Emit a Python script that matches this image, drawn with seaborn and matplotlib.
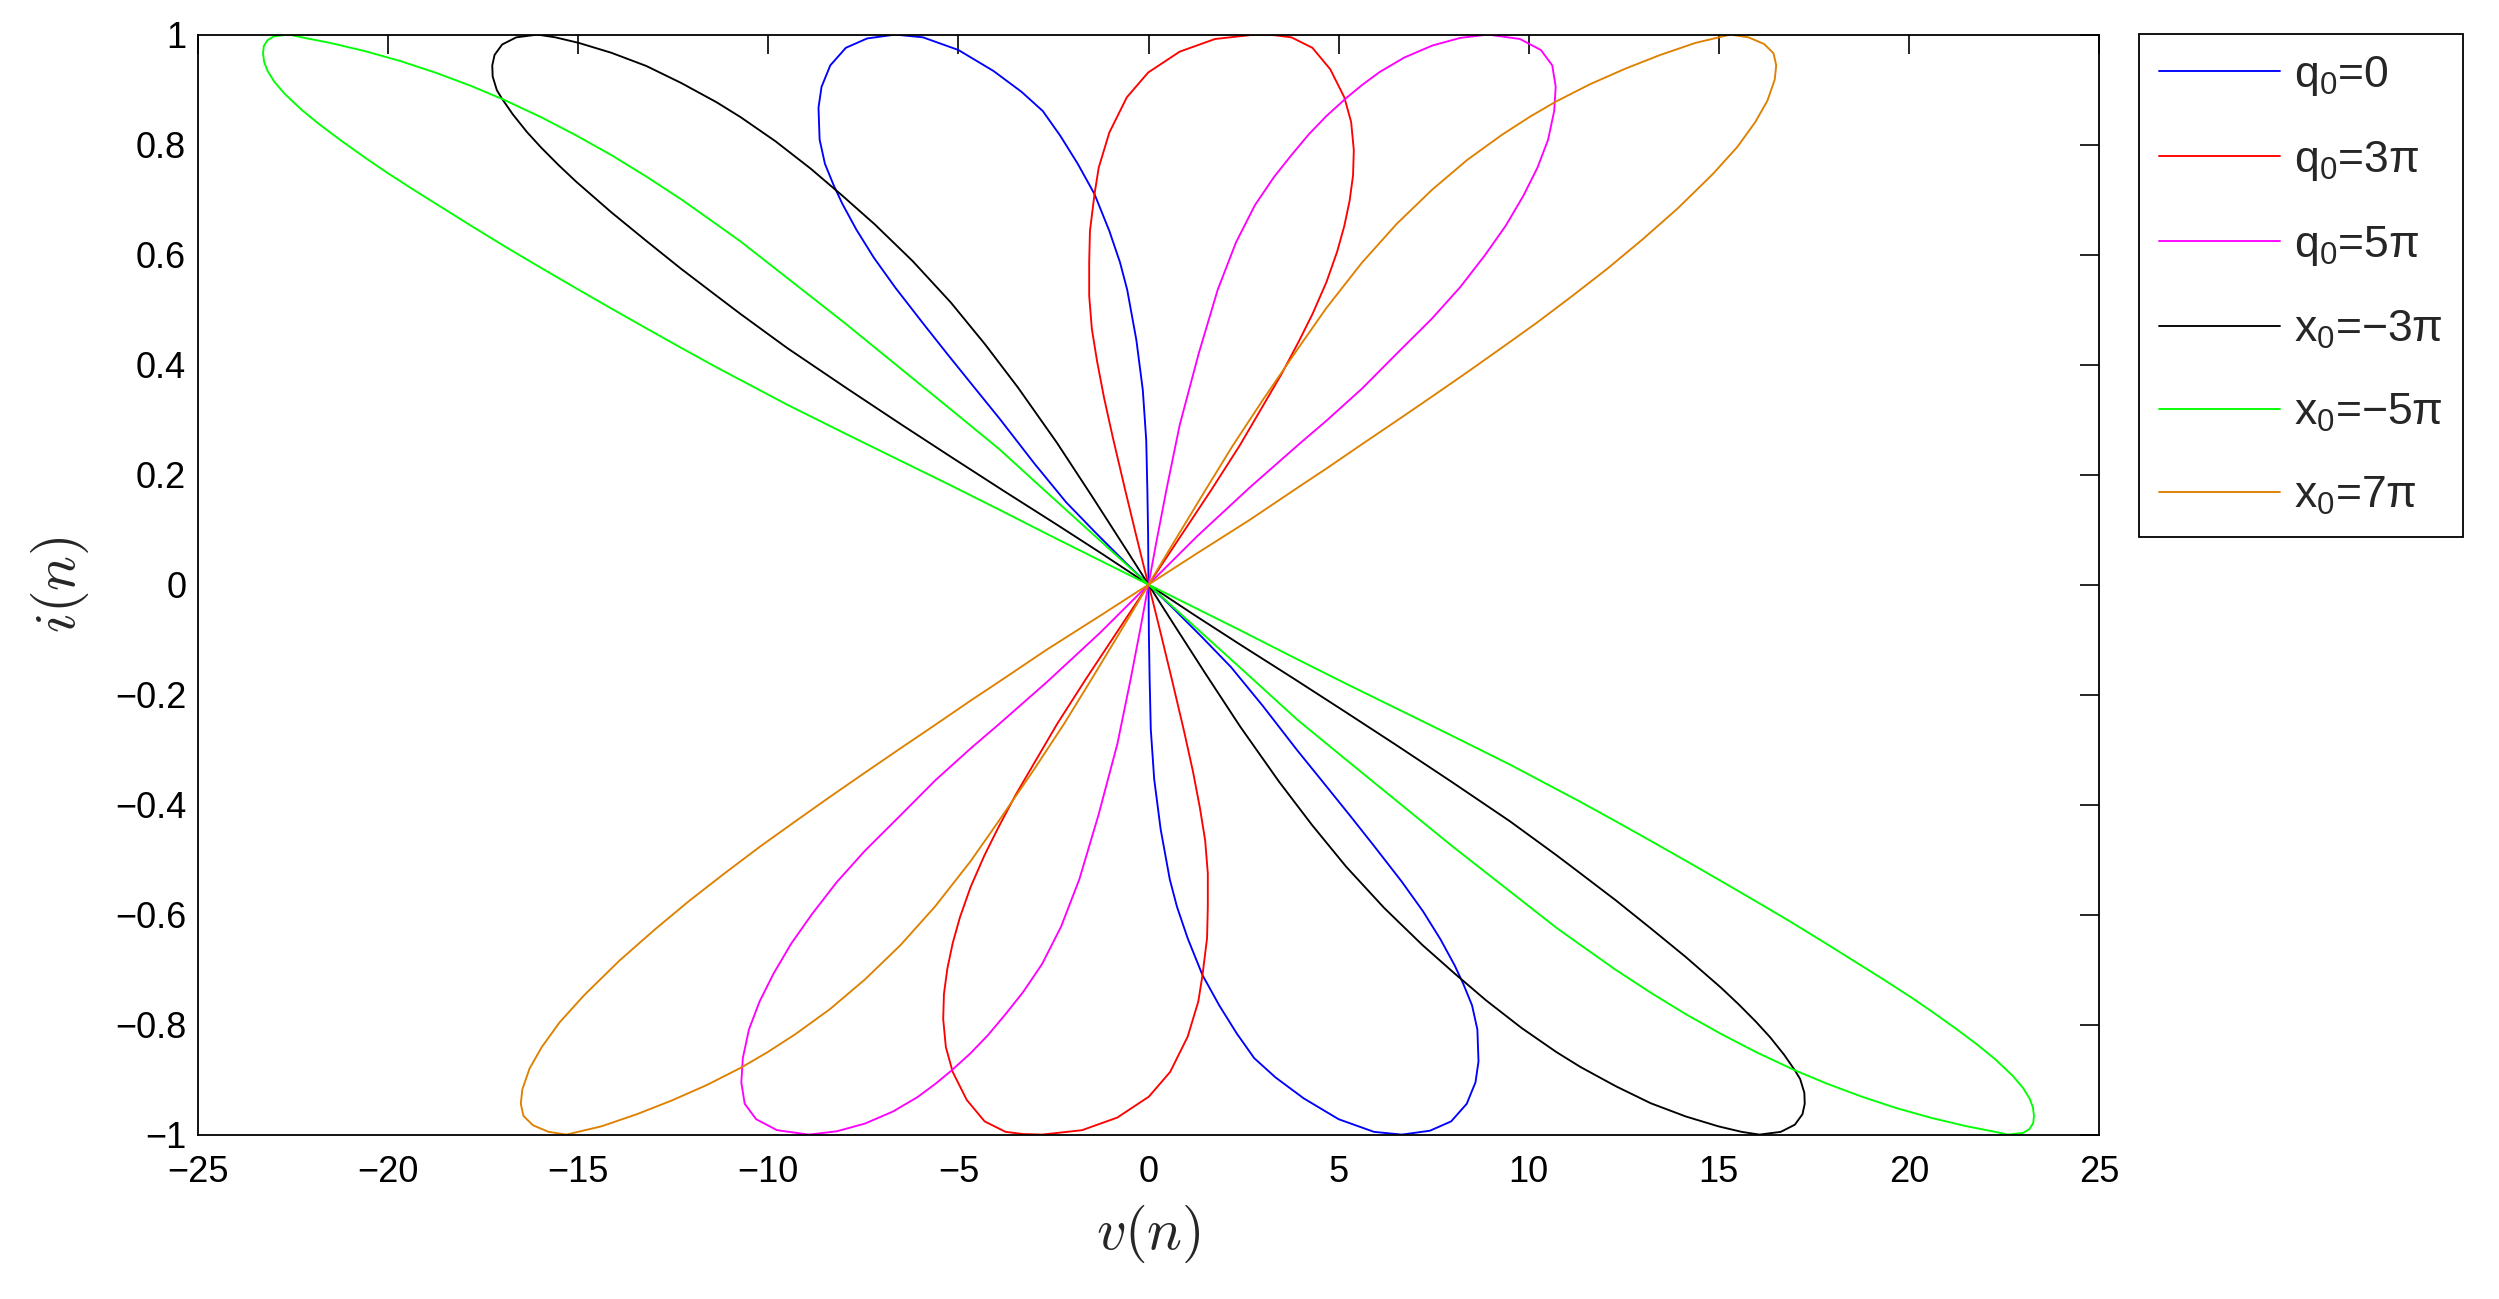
import matplotlib
matplotlib.use("Agg")
import matplotlib.pyplot as plt
import pandas as pd
import seaborn as sns

# ---------------- data ----------------
LABELS = ["q$_0$=0", "q$_0$=3\u03c0", "q$_0$=5\u03c0",
          "x$_0$=\u22123\u03c0", "x$_0$=\u22125\u03c0", "x$_0$=7\u03c0"]
COLORS = ["#0000ff", "#ff0000", "#ff00ff", "#000000", "#00ff00", "#de8000"]

# q0 = 0 (blue)
BLUE_UP_V = [0, -0.01, -0.03, -0.06, -0.15, -0.32, -0.56, -0.75, -1.03, -1.42, -1.86, -2.32, -2.78, -3.34,
             -4.08, -5.00, -5.93, -6.66, -7.40, -7.96, -8.37, -8.60, -8.68, -8.65, -8.51, -8.28, -8.05,
             -7.68, -7.22, -6.66, -5.93, -5.30, -4.60, -3.92, -3.00, -2.17, -1.40, -0.59, 0]
BLUE_UP_I = [0, 0.090, 0.172, 0.263, 0.354, 0.445, 0.536, 0.586, 0.643, 0.710, 0.765, 0.816, 0.861, 0.896,
             0.934, 0.972, 0.995, 1.0, 0.993, 0.976, 0.944, 0.905, 0.867, 0.809, 0.765, 0.726, 0.692,
             0.645, 0.594, 0.540, 0.475, 0.420, 0.360, 0.302, 0.220, 0.150, 0.095, 0.039, 0]
BLUE_LO_V = [0, 0.01, 0.03, 0.06, 0.15, 0.32, 0.56, 0.75, 1.03, 1.42, 1.86, 2.32, 2.78, 3.34,
             4.08, 5.00, 5.93, 6.66, 7.40, 7.96, 8.37, 8.60, 8.68, 8.65, 8.51, 8.28, 8.05,
             7.68, 7.22, 6.66, 5.93, 5.30, 4.60, 3.92, 3.00, 2.17, 1.40, 0.59, 0]
BLUE_LO_I = [0, -0.090, -0.172, -0.263, -0.354, -0.445, -0.536, -0.586, -0.643, -0.710, -0.765, -0.816, -0.861, -0.896,
             -0.934, -0.972, -0.995, -1.0, -0.993, -0.976, -0.944, -0.905, -0.867, -0.809, -0.765, -0.726, -0.692,
             -0.645, -0.594, -0.540, -0.475, -0.420, -0.360, -0.302, -0.220, -0.150, -0.095, -0.039, 0]

# q0 = 3pi (red)
RED_UP_V = [0, 0.50, 1.65, 2.40, 3.01, 3.50, 3.96, 4.32, 4.68, 4.96, 5.15, 5.29, 5.38, 5.40, 5.33, 5.15,
            4.78, 4.31, 3.76, 3.30, 2.80, 1.75, 0.82, -0.01, -0.57, -1.03, -1.31, -1.42, -1.54, -1.56,
            -1.56, -1.49, -1.35, -1.17, -0.94, -0.62, -0.33, -0.12, 0]
RED_UP_I = [0, 0.052, 0.172, 0.253, 0.325, 0.383, 0.443, 0.493, 0.550, 0.605, 0.652, 0.698, 0.744, 0.790,
            0.841, 0.886, 0.937, 0.976, 0.995, 0.999, 1.0, 0.992, 0.969, 0.931, 0.886, 0.822, 0.758, 0.710,
            0.643, 0.586, 0.525, 0.465, 0.405, 0.340, 0.268, 0.174, 0.091, 0.032, 0]
RED_LO_V = [0, -0.50, -1.65, -2.40, -3.01, -3.50, -3.96, -4.32, -4.68, -4.96, -5.15, -5.29, -5.38, -5.40, -5.33, -5.15,
            -4.78, -4.31, -3.76, -3.30, -2.80, -1.75, -0.82, 0.01, 0.57, 1.03, 1.31, 1.42, 1.54, 1.56,
            1.56, 1.49, 1.35, 1.17, 0.94, 0.62, 0.33, 0.12, 0]
RED_LO_I = [0, -0.052, -0.172, -0.253, -0.325, -0.383, -0.443, -0.493, -0.550, -0.605, -0.652, -0.698, -0.744, -0.790,
            -0.841, -0.886, -0.937, -0.976, -0.995, -0.999, -1.0, -0.992, -0.969, -0.931, -0.886, -0.822, -0.758, -0.710,
            -0.643, -0.586, -0.525, -0.465, -0.405, -0.340, -0.268, -0.174, -0.091, -0.032, 0]

# q0 = 5pi (magenta)
MAG_UP_V = [0, 0.20, 0.47, 0.82, 1.32, 1.82, 2.30, 2.80, 3.30, 3.76, 4.22, 4.68, 5.19, 5.61, 6.08, 6.72,
            7.46, 8.20, 8.93, 9.77, 10.32, 10.62, 10.71, 10.67, 10.51, 10.23, 9.86, 9.40, 8.85, 8.20,
            7.46, 6.53, 5.61, 4.68, 3.97, 2.67, 1.28, 0]
MAG_UP_I = [0, 0.075, 0.172, 0.290, 0.420, 0.536, 0.622, 0.690, 0.741, 0.781, 0.819, 0.852, 0.884, 0.908,
            0.932, 0.958, 0.980, 0.994, 1.0, 0.992, 0.972, 0.944, 0.905, 0.861, 0.809, 0.758, 0.707, 0.653,
            0.599, 0.541, 0.484, 0.420, 0.356, 0.298, 0.256, 0.177, 0.088, 0]
MAG_LO_V = [0, -0.20, -0.47, -0.82, -1.32, -1.82, -2.30, -2.80, -3.30, -3.76, -4.22, -4.68, -5.19, -5.61, -6.08, -6.72,
            -7.46, -8.20, -8.93, -9.77, -10.32, -10.62, -10.71, -10.67, -10.51, -10.23, -9.86, -9.40, -8.85, -8.20,
            -7.46, -6.53, -5.61, -4.68, -3.97, -2.67, -1.28, 0]
MAG_LO_I = [0, -0.075, -0.172, -0.290, -0.420, -0.536, -0.622, -0.690, -0.741, -0.781, -0.819, -0.852, -0.884, -0.908,
            -0.932, -0.958, -0.980, -0.994, -1.0, -0.992, -0.972, -0.944, -0.905, -0.861, -0.809, -0.758, -0.707, -0.653,
            -0.599, -0.541, -0.484, -0.420, -0.356, -0.298, -0.256, -0.177, -0.088, 0]

# x0 = -3pi (black)
BLK_UP_V = [0, -0.57, -1.49, -2.41, -3.43, -4.30, -5.20, -6.20, -7.20, -8.05, -8.88, -9.81, -10.73, -11.36,
            -12.29, -13.21, -14.13, -14.99, -15.60, -16.07, -16.63, -17.00, -17.20, -17.26, -17.25, -17.14,
            -17.00, -16.72, -16.35, -15.98, -15.52, -15.06, -14.13, -13.21, -12.29, -11.36, -10.73, -9.50,
            -7.96, -6.50, -5.19, -3.80, -2.41, -1.20, 0]
BLK_UP_I = [0, 0.062, 0.161, 0.258, 0.358, 0.437, 0.513, 0.588, 0.655, 0.707, 0.756, 0.806, 0.850, 0.877,
            0.912, 0.943, 0.967, 0.985, 0.995, 1.0, 0.995, 0.982, 0.963, 0.944, 0.924, 0.899, 0.883, 0.855,
            0.823, 0.795, 0.763, 0.733, 0.677, 0.625, 0.574, 0.525, 0.492, 0.430, 0.358, 0.291, 0.232,
            0.170, 0.109, 0.055, 0]
BLK_LO_V = [0, 0.57, 1.49, 2.41, 3.43, 4.30, 5.20, 6.20, 7.20, 8.05, 8.88, 9.81, 10.73, 11.36,
            12.29, 13.21, 14.13, 14.99, 15.60, 16.07, 16.63, 17.00, 17.20, 17.26, 17.25, 17.14,
            17.00, 16.72, 16.35, 15.98, 15.52, 15.06, 14.13, 13.21, 12.29, 11.36, 10.73, 9.50,
            7.96, 6.50, 5.19, 3.80, 2.41, 1.20, 0]
BLK_LO_I = [0, -0.062, -0.161, -0.258, -0.358, -0.437, -0.513, -0.588, -0.655, -0.707, -0.756, -0.806, -0.850, -0.877,
            -0.912, -0.943, -0.967, -0.985, -0.995, -1.0, -0.995, -0.982, -0.963, -0.944, -0.924, -0.899, -0.883, -0.855,
            -0.823, -0.795, -0.763, -0.733, -0.677, -0.625, -0.574, -0.525, -0.492, -0.430, -0.358, -0.291, -0.232,
            -0.170, -0.109, -0.055, 0]

# x0 = -5pi (green)
GRN_UP_V = [0, -0.57, -2.41, -3.92, -5.19, -7.96, -10.73, -11.36, -12.28, -13.21, -14.13, -15.06, -15.98,
            -17.00, -17.83, -18.76, -19.68, -20.61, -21.53, -22.27, -22.60, -23.00, -23.17, -23.27, -23.29,
            -23.26, -23.17, -23.00, -22.73, -22.27, -21.81, -21.25, -20.60, -20.05, -19.31, -18.57, -17.83,
            -16.91, -15.98, -15.06, -14.13, -13.21, -12.28, -11.36, -10.73, -9.50, -7.96, -5.19, -3.92, -2.41, 0]
GRN_UP_I = [0, 0.036, 0.151, 0.246, 0.318, 0.474, 0.624, 0.655, 0.700, 0.742, 0.781, 0.817, 0.850, 0.883,
            0.907, 0.931, 0.952, 0.970, 0.985, 0.995, 1.0, 0.997, 0.990, 0.979, 0.966, 0.950, 0.934, 0.915,
            0.893, 0.863, 0.837, 0.808, 0.776, 0.750, 0.717, 0.685, 0.653, 0.614, 0.576, 0.539, 0.502, 0.466,
            0.430, 0.395, 0.372, 0.327, 0.274, 0.180, 0.136, 0.083, 0]
GRN_LO_V = [0, 0.57, 2.41, 3.92, 5.19, 7.96, 10.73, 11.36, 12.28, 13.21, 14.13, 15.06, 15.98,
            17.00, 17.83, 18.76, 19.68, 20.61, 21.53, 22.27, 22.60, 23.00, 23.17, 23.27, 23.29,
            23.26, 23.17, 23.00, 22.73, 22.27, 21.81, 21.25, 20.60, 20.05, 19.31, 18.57, 17.83,
            16.91, 15.98, 15.06, 14.13, 13.21, 12.28, 11.36, 10.73, 9.50, 7.96, 5.19, 3.92, 2.41, 0]
GRN_LO_I = [0, -0.036, -0.151, -0.246, -0.318, -0.474, -0.624, -0.655, -0.700, -0.742, -0.781, -0.817, -0.850, -0.883,
            -0.907, -0.931, -0.952, -0.970, -0.985, -0.995, -1.0, -0.997, -0.990, -0.979, -0.966, -0.950, -0.934, -0.915,
            -0.893, -0.863, -0.837, -0.808, -0.776, -0.750, -0.717, -0.685, -0.653, -0.614, -0.576, -0.539, -0.502, -0.466,
            -0.430, -0.395, -0.372, -0.327, -0.274, -0.180, -0.136, -0.083, 0]

# x0 = 7pi (orange)
ORG_UP_V = [0, 0.64, 1.49, 2.21, 3.01, 3.96, 4.68, 5.61, 6.53, 7.46, 8.38, 9.30, 10.04, 10.71, 11.62, 12.54,
            13.46, 14.39, 15.31, 15.78, 16.19, 16.44, 16.51, 16.47, 16.28, 15.96, 15.49, 14.85, 13.92, 13.00,
            12.08, 11.15, 10.23, 9.30, 8.38, 7.46, 6.53, 5.61, 4.68, 3.96, 2.67, 1.28, 0]
ORG_UP_I = [0, 0.074, 0.171, 0.252, 0.336, 0.432, 0.503, 0.585, 0.656, 0.718, 0.772, 0.818, 0.851, 0.878,
            0.910, 0.938, 0.963, 0.985, 1.0, 0.995, 0.983, 0.966, 0.944, 0.918, 0.880, 0.841, 0.796, 0.747,
            0.684, 0.628, 0.575, 0.525, 0.477, 0.431, 0.386, 0.342, 0.298, 0.255, 0.211, 0.178, 0.118, 0.057, 0]
ORG_LO_V = [0, -0.64, -1.49, -2.21, -3.01, -3.96, -4.68, -5.61, -6.53, -7.46, -8.38, -9.30, -10.04, -10.71, -11.62, -12.54,
            -13.46, -14.39, -15.31, -15.78, -16.19, -16.44, -16.51, -16.47, -16.28, -15.96, -15.49, -14.85, -13.92, -13.00,
            -12.08, -11.15, -10.23, -9.30, -8.38, -7.46, -6.53, -5.61, -4.68, -3.96, -2.67, -1.28, 0]
ORG_LO_I = [0, -0.074, -0.171, -0.252, -0.336, -0.432, -0.503, -0.585, -0.656, -0.718, -0.772, -0.818, -0.851, -0.878,
            -0.910, -0.938, -0.963, -0.985, -1.0, -0.995, -0.983, -0.966, -0.944, -0.918, -0.880, -0.841, -0.796, -0.747,
            -0.684, -0.628, -0.575, -0.525, -0.477, -0.431, -0.386, -0.342, -0.298, -0.255, -0.211, -0.178, -0.118, -0.057, 0]

X_TICKS = [-25, -20, -15, -10, -5, 0, 5, 10, 15, 20, 25]
X_TICK_LABELS = ["\u221225", "\u221220", "\u221215", "\u221210", "\u22125", "0", "5", "10", "15", "20", "25"]
Y_TICKS = [-1, -0.8, -0.6, -0.4, -0.2, 0, 0.2, 0.4, 0.6, 0.8, 1]
Y_TICK_LABELS = ["\u22121", "\u22120.8", "\u22120.6", "\u22120.4", "\u22120.2", "0",
                 "0.2", "0.4", "0.6", "0.8", "1"]

SERIES = [
    (BLUE_UP_V + BLUE_LO_V[1:], BLUE_UP_I + BLUE_LO_I[1:]),
    (RED_UP_V + RED_LO_V[1:], RED_UP_I + RED_LO_I[1:]),
    (MAG_UP_V + MAG_LO_V[1:], MAG_UP_I + MAG_LO_I[1:]),
    (BLK_UP_V + BLK_LO_V[1:], BLK_UP_I + BLK_LO_I[1:]),
    (GRN_UP_V + GRN_LO_V[1:], GRN_UP_I + GRN_LO_I[1:]),
    (ORG_UP_V + ORG_LO_V[1:], ORG_UP_I + ORG_LO_I[1:]),
]

# ---------------- style ----------------
sns.set_style("white")
plt.rcParams["font.family"] = ["Liberation Sans", "DejaVu Sans"]
plt.rcParams["mathtext.fontset"] = "custom"
plt.rcParams["mathtext.rm"] = "Liberation Sans"
plt.rcParams["mathtext.it"] = "Liberation Sans:italic"
plt.rcParams["mathtext.bf"] = "Liberation Sans:bold"

W, H = 2499, 1299
fig = plt.figure(figsize=(W / 100, H / 100), dpi=100)
fig.patch.set_facecolor("white")
ax_l, ax_r, ax_t, ax_b = 198, 2099, 34.6, 1134.6
ax = fig.add_axes([ax_l / W, 1 - ax_b / H, (ax_r - ax_l) / W, (ax_b - ax_t) / H])

for (v, i), c, lab in zip(SERIES, COLORS, LABELS):
    df = pd.DataFrame({"v": v, "i": i})
    sns.lineplot(data=df, x="v", y="i", sort=False, estimator=None, color=c,
                 linewidth=1.35, label=lab, ax=ax, solid_joinstyle="round")

ax.set_xlim(-25, 25)
ax.set_ylim(-1, 1)
ax.set_xticks(X_TICKS)
ax.set_xticklabels(X_TICK_LABELS)
ax.set_yticks(Y_TICKS)
ax.set_yticklabels(Y_TICK_LABELS)
ax.tick_params(axis="both", which="both", direction="in", top=True, right=True,
               length=13.5, width=1.2, labelsize=26, colors="black")
ax.tick_params(axis="x", pad=15)
ax.tick_params(axis="y", pad=8.5)
for s in ax.spines.values():
    s.set_visible(True)
    s.set_color("black")
    s.set_linewidth(1.3)

ax.set_xlabel(r"$v(n)$", fontsize=42, math_fontfamily="cm")
ax.xaxis.set_label_coords(0.5, (ax_b - 1234) / (ax_b - ax_t))
ax.xaxis.label.set_va("center")
ax.set_ylabel(r"$i(n)$", fontsize=42, math_fontfamily="cm")
ax.yaxis.set_label_coords((60 - ax_l) / (ax_r - ax_l), 0.5)
ax.yaxis.label.set_va("center")

leg = ax.legend(loc="upper left", bbox_to_anchor=(2139 / W, 1 - 34 / H),
                bbox_transform=fig.transFigure, borderaxespad=0, frameon=True,
                fancybox=False, edgecolor="black", framealpha=1, fontsize=32,
                handlelength=2.72, handletextpad=0.32, labelspacing=0.92, borderpad=0.45)
leg.get_frame().set_linewidth(1.3)

fig.savefig("out.png", dpi=100, facecolor="white")
